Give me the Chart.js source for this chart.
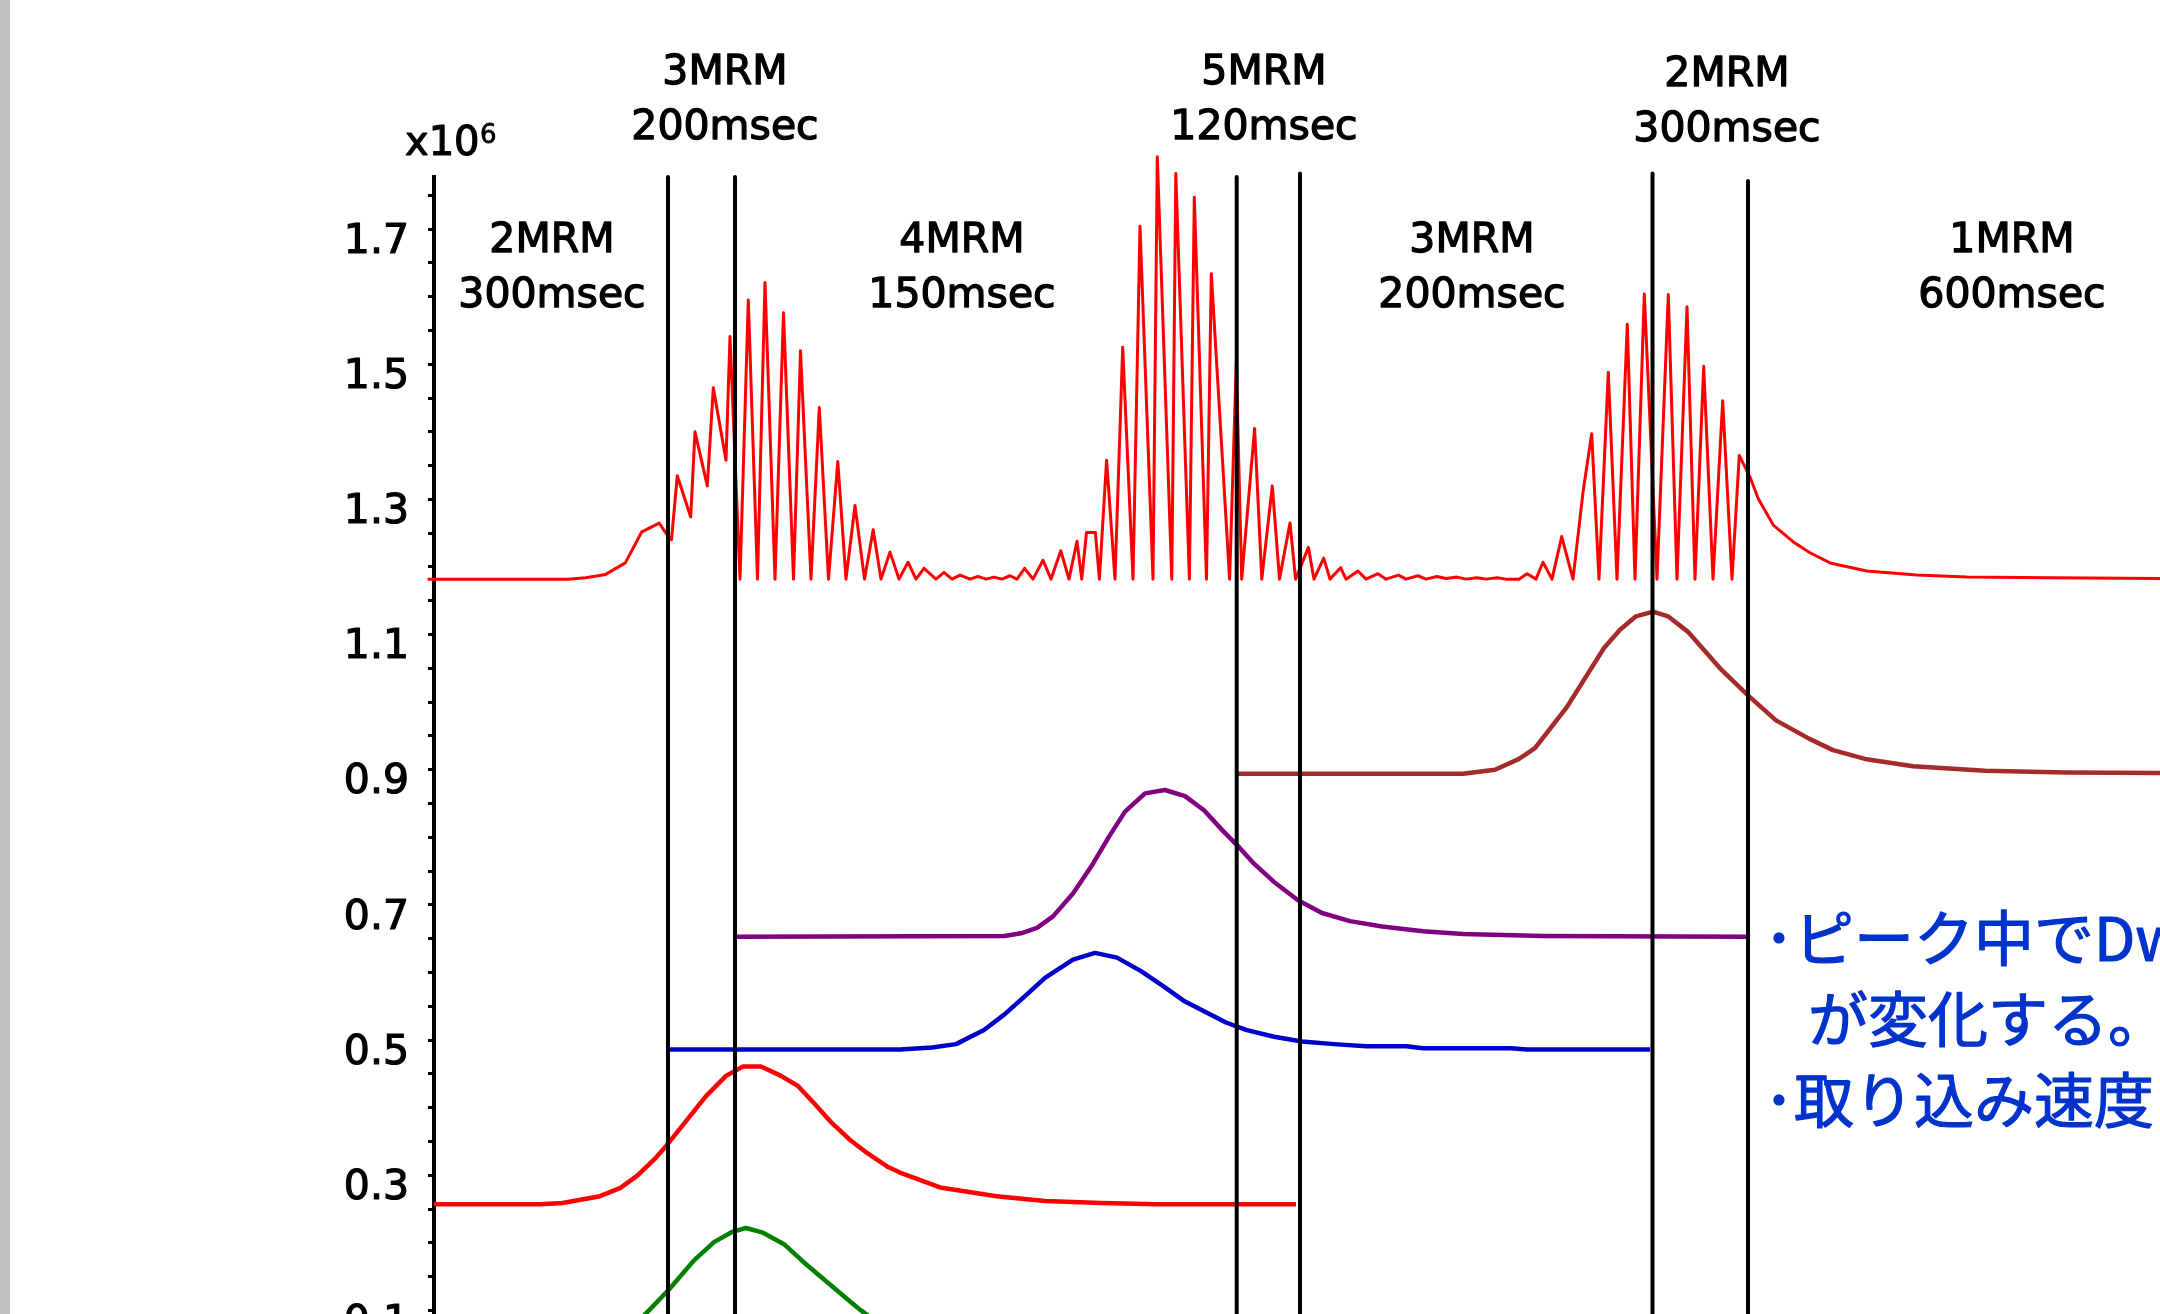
<!DOCTYPE html>
<html>
<head>
<meta charset="utf-8">
<script src="https://cdn.jsdelivr.net/npm/chart.js@4.4.1/dist/chart.umd.min.js"></script>
<style>
  html, body { margin: 0; padding: 0; background: #fff; overflow: hidden; }
  #wrap { position: relative; width: 2160px; height: 1314px; overflow: hidden; }
  #edge { position: absolute; left: 0; top: 0; width: 10px; height: 1314px; background: #c0c0c0; }
  canvas { position: absolute; left: 0; top: 0; }
</style>
</head>
<body>
<div id="wrap">
  <canvas id="chart" width="2160" height="1478"></canvas>
  <div id="edge"></div>
</div>
<script>
// time axis in seconds, intensities in x10^6 counts

// summed trace (top, red)
const ticTime = [
  -0.64, 13.4, 15.15, 17.16, 19.13, 20.78, 22.52, 23.1, 23.75, 24.33,
  25.67, 26.1, 27.33, 27.93, 29.2, 29.6, 30.6, 31.43, 32.35, 33.1,
  34.1, 34.95, 35.95, 36.65, 37.7, 38.53, 39.45, 40.38, 41.2, 42.1,
  43.05, 43.92, 44.7, 45.6, 46.5, 47.4, 48.2, 49.0, 50.2, 51.0,
  51.8, 52.6, 53.6, 54.4, 55.2, 56.0, 56.8, 57.6, 58.3, 59.06,
  59.9, 60.9, 61.7, 62.68, 63.5, 64.3, 64.77, 65.25, 66.14, 66.54,
  67.26, 68.1, 68.87, 69.9, 70.6, 71.9, 72.33, 73.78, 74.18, 75.54,
  76.03, 77.25, 77.73, 79.56, 80.23, 80.77, 82.06, 82.78, 83.83, 84.55,
  85.6, 86.16, 87.44, 88.0, 88.97, 89.6, 90.66, 91.2, 92.4, 93.2,
  94.4, 95.2, 96.45, 97.2, 98.4, 99.2, 100.3, 101.2, 102.3, 103.2,
  104.3, 105.2, 106.3, 107.2, 108.5, 109.3, 110.2, 110.9, 111.8, 112.77,
  113.9, 114.93, 115.77, 116.5, 117.43, 118.3, 119.33, 120.1, 121.03, 122.3,
  123.43, 124.3, 125.3, 126.1, 126.97, 127.9, 128.87, 129.8, 130.53, 131.6,
  132.43, 133.93, 135.93, 137.6, 139.6, 143.27, 148.27, 153.27, 161.6, 172.6
];
const ticSignal = [
  1.182, 1.182, 1.184, 1.189, 1.206, 1.252, 1.265, 1.252, 1.240, 1.335,
  1.274, 1.400, 1.320, 1.465, 1.358, 1.541, 1.182, 1.595, 1.182, 1.621,
  1.182, 1.576, 1.182, 1.520, 1.182, 1.436, 1.182, 1.356, 1.182, 1.291,
  1.182, 1.255, 1.182, 1.222, 1.182, 1.207, 1.182, 1.198, 1.182, 1.192,
  1.182, 1.188, 1.182, 1.186, 1.182, 1.185, 1.182, 1.187, 1.182, 1.198,
  1.182, 1.210, 1.182, 1.224, 1.182, 1.238, 1.182, 1.251, 1.251, 1.182,
  1.358, 1.182, 1.525, 1.182, 1.704, 1.182, 1.807, 1.182, 1.782, 1.182,
  1.747, 1.182, 1.634, 1.182, 1.503, 1.182, 1.405, 1.182, 1.320, 1.182,
  1.265, 1.182, 1.229, 1.182, 1.213, 1.182, 1.199, 1.182, 1.194, 1.182,
  1.190, 1.182, 1.188, 1.182, 1.187, 1.182, 1.186, 1.183, 1.185, 1.182,
  1.184, 1.182, 1.184, 1.182, 1.182, 1.190, 1.182, 1.207, 1.182, 1.245,
  1.182, 1.314, 1.397, 1.182, 1.488, 1.182, 1.559, 1.182, 1.604, 1.182,
  1.603, 1.182, 1.585, 1.182, 1.497, 1.182, 1.446, 1.182, 1.365, 1.333,
  1.301, 1.262, 1.237, 1.221, 1.206, 1.194, 1.188, 1.185, 1.184, 1.183
];

// individual MRM channels
const redTime = [0, 10.6, 12.85, 16.6, 18.6, 20.3, 22.0, 23.2, 25.2, 27.2, 29.2, 30.9, 32.7, 34.7,
  36.4, 38.1, 39.8, 41.55, 43.3, 45.3, 46.6, 50.6, 56.25, 61.1, 66.7, 72.3, 86.2];
const redSignal = [0.257, 0.257, 0.259, 0.269, 0.281, 0.299, 0.323, 0.343, 0.380, 0.417, 0.447, 0.461, 0.461, 0.447,
  0.432, 0.405, 0.377, 0.353, 0.333, 0.313, 0.304, 0.282, 0.269, 0.262, 0.259, 0.257, 0.257];

const greenTime = [19.5, 21.5, 23.5, 26.0, 28.0, 29.8, 31.2, 32.9, 35.0, 37.0, 39.3, 41.55, 42.7, 45.0];
const greenSignal = [0.070, 0.100, 0.131, 0.174, 0.201, 0.216, 0.222, 0.215, 0.198, 0.171, 0.142, 0.114, 0.100, 0.075];

const blueTime = [23.4, 46.6, 49.8, 52.2, 55.0, 57.05, 59.1, 61.1, 63.9, 66.1, 68.3, 70.7, 73.1,
  75.1, 77.2, 79.2, 81.2, 84.0, 86.8, 90.0, 93.2, 97.25, 98.9, 107.7, 109.3, 121.6];
const blueSignal = [0.486, 0.486, 0.489, 0.494, 0.515, 0.538, 0.565, 0.592, 0.619, 0.629, 0.622, 0.602, 0.578,
  0.557, 0.541, 0.526, 0.515, 0.505, 0.498, 0.494, 0.491, 0.491, 0.488, 0.488, 0.486, 0.486];

const purpleTime = [30.3, 57.05, 58.7, 60.3, 61.9, 63.9, 65.9, 67.5, 69.1, 71.1, 73.1, 75.1, 77.0,
  78.8, 80.4, 82.0, 84.0, 86.4, 88.8, 91.6, 94.8, 98.9, 102.9, 110.9, 131.3];
const purpleSignal = [0.653, 0.654, 0.658, 0.666, 0.683, 0.717, 0.761, 0.801, 0.838, 0.865, 0.870, 0.861, 0.840,
  0.811, 0.787, 0.761, 0.734, 0.707, 0.688, 0.676, 0.668, 0.661, 0.657, 0.654, 0.653];

const brownTime = [80.4, 102.9, 106.1, 108.5, 110.1, 113.3, 117.0, 118.6, 120.2, 121.9, 123.4, 125.4,
  127.0, 128.6, 131.4, 134.2, 137.5, 139.9, 143.1, 147.9, 155.1, 163.2, 172.6];
const brownSignal = [0.894, 0.894, 0.900, 0.916, 0.932, 0.993, 1.080, 1.107, 1.127, 1.134, 1.127, 1.104,
  1.077, 1.050, 1.010, 0.973, 0.946, 0.929, 0.916, 0.905, 0.8985, 0.896, 0.895];

// segment boundaries (acquisition window changes)
const boundaryTimes = [23.4, 30.1, 80.27, 86.6, 121.85, 131.4];
const boundaryTops = [1.777, 1.777, 1.777, 1.782, 1.782, 1.771];

// texts
const topLabels = [['3MRM', '200msec'], ['5MRM', '120msec'], ['2MRM', '300msec']];
const innerLabels = [['2MRM', '300msec'], ['4MRM', '150msec'], ['3MRM', '200msec'], ['1MRM', '600msec']];
const noteLines = ['･ピーク中でDwell time', 'が変化する。', '･取り込み速度'];
const axisUnit = ['x10', '6'];

function series(xs, ys, color, width) {
  return {
    data: xs.map((x, i) => ({ x: x, y: ys[i] })),
    borderColor: color,
    borderWidth: width,
    pointRadius: 0,
    fill: false,
    clip: false,
    tension: 0,
    borderJoinStyle: 'round'
  };
}

const datasets = [];
boundaryTimes.forEach((t, i) => {
  datasets.push(series([t, t], [boundaryTops[i], 0], '#000000', 4));
});
datasets.push(series(ticTime, ticSignal, '#ff0000', 3));
datasets.push(series(brownTime, brownSignal, '#a52a2a', 4.5));
datasets.push(series(purpleTime, purpleSignal, '#800080', 4.5));
datasets.push(series(blueTime, blueSignal, '#0000cc', 4.5));
datasets.push(series(redTime, redSignal, '#ff0000', 4.5));
datasets.push(series(greenTime, greenSignal, '#008000', 4.5));

// fill + thin stroke, to get the heavier look of the original lettering
function boldText(ctx, text, x, y, w) {
  ctx.lineWidth = w;
  ctx.strokeText(text, x, y);
  ctx.fillText(text, x, y);
}

// draws the segment captions, the unit and the note
const textPlugin = {
  id: 'texts',
  afterDraw(chart) {
    const ctx = chart.ctx;
    ctx.save();
    ctx.fillStyle = '#000';
    ctx.strokeStyle = '#000';
    ctx.lineJoin = 'round';
    ctx.textAlign = 'center';
    ctx.textBaseline = 'alphabetic';
    ctx.font = '41px "DejaVu Sans"';
    const topPos = [[725, 84], [1264, 84], [1727, 86]];
    topLabels.forEach((lines, i) => {
      boldText(ctx, lines[0], topPos[i][0], topPos[i][1], 1.3);
      boldText(ctx, lines[1], topPos[i][0], topPos[i][1] + 55, 1.3);
    });
    const innerPos = [[552, 252], [962, 252], [1472, 252], [2012, 252]];
    innerLabels.forEach((lines, i) => {
      boldText(ctx, lines[0], innerPos[i][0], innerPos[i][1], 1.3);
      boldText(ctx, lines[1], innerPos[i][0], innerPos[i][1] + 55, 1.3);
    });

    ctx.textAlign = 'left';
    ctx.font = '40px "DejaVu Sans"';
    boldText(ctx, axisUnit[0], 405, 155, 1.2);
    ctx.font = '26px "DejaVu Sans"';
    boldText(ctx, axisUnit[1], 480, 143, 0.8);

    ctx.fillStyle = '#0033cc';
    ctx.strokeStyle = '#0033cc';
    ctx.textBaseline = 'middle';
    ctx.font = '60px "Noto Sans CJK JP"';
    const noteX = [1764, 1808, 1764];
    const noteY = [938, 1019, 1100];
    noteLines.forEach((line, i) => boldText(ctx, line, noteX[i], noteY[i], 1.2));
    ctx.restore();
  }
};

new Chart(document.getElementById('chart'), {
  type: 'line',
  data: { datasets: datasets },
  options: {
    responsive: false,
    devicePixelRatio: 1,
    animation: false,
    events: [],
    layout: { padding: { top: 177, bottom: 100, left: 0, right: 0 } },
    plugins: { legend: { display: false }, tooltip: { enabled: false } },
    scales: {
      x: { type: 'linear', min: 0, max: 172.6, display: false },
      y: {
        type: 'linear',
        min: 0,
        max: 1.777,
        afterFit: (scale) => { scale.width = 434; },
        border: { display: true, color: '#000', width: 4 },
        grid: { drawOnChartArea: false, drawTicks: true, tickLength: 6, tickWidth: 3, tickColor: '#000', color: '#000' },
        ticks: {
          stepSize: 0.05,
          maxTicksLimit: 100,
          includeBounds: false,
          autoSkip: false,
          padding: 19,
          labelOffset: 13,
          color: '#000',
          textStrokeColor: '#000',
          textStrokeWidth: 1.2,
          font: { family: 'DejaVu Sans', size: 41 },
          callback: (v) => {
            const k = Math.round(v * 100);
            return (k % 20 === 10) ? (k / 100).toFixed(1) : '';
          }
        }
      }
    }
  },
  plugins: [textPlugin]
});
</script>
</body>
</html>
